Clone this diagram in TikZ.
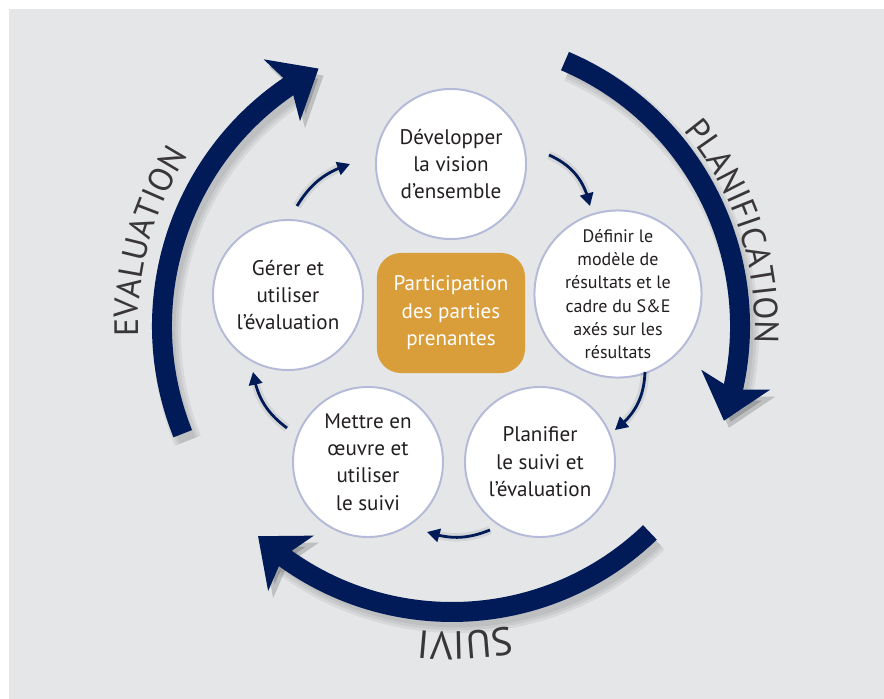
\documentclass[tikz,border=0pt]{standalone}
\usepackage{fontspec}
\setmainfont{PT Sans}
\usetikzlibrary{arrows.meta,bending,decorations.text}
\definecolor{navy}{HTML}{001B58}
\definecolor{gold}{HTML}{D99D3A}
\definecolor{rim}{HTML}{B5BAD8}
\definecolor{panel}{HTML}{E5E6E8}
\definecolor{ink}{HTML}{231F20}
\definecolor{arcink}{HTML}{383638}
\newcommand{\arcfont}{\fontsize{24}{24}\selectfont}
\newcommand{\suivifont}{\fontsize{28}{28}\selectfont}
\begin{document}
\begin{tikzpicture}[x=0.025cm,y=0.025cm,
  stage/.style={circle,draw=rim,line width=1.4pt,fill=white,minimum size=3.75cm,inner sep=0pt,align=center,text=ink,font=\fontsize{15}{19.5}\selectfont},
  smallstage/.style={stage,font=\fontsize{12.8}{16.6}\selectfont},
  hubbox/.style={rectangle,rounded corners=0.6cm,fill=gold,text=white,minimum width=3.7cm,minimum height=3cm,align=center,font=\fontsize{15}{19.5}\selectfont},
  bigarrow/.style={draw=navy,line width=14.2pt,-{Stealth[length=30pt,width=50pt,inset=7pt]}},
  bigshade/.style={draw=black,opacity=0.06,line width=#1,-{Stealth[length=30pt,width=50pt,inset=7pt]}},
  smallarrow/.style={draw=navy,line width=2pt,-{Triangle[length=9pt,width=9.5pt]}},
  smallshade/.style={draw=black,opacity=0.07,line width=#1,-{Triangle[length=9pt,width=9.5pt]}},
  arclabel/.style={decorate,decoration={text along path,text align=center,text color=arcink,text={#1}}}]
\useasboundingbox (-452,-373) rectangle (432,326);
\fill[panel] (-443,-373) rectangle (432,317);
\coordinate (hub) at (0,0);
%
% shadows of the big arcs
\draw[bigshade=20pt,shift={(5,-7)}] (201.8:290) arc[start angle=201.8,end angle=117.4,radius=290];
\draw[bigshade=16pt,shift={(5,-7)}] (201.8:290) arc[start angle=201.8,end angle=117.4,radius=290];
\draw[bigshade=12pt,shift={(5,-7)}] (201.8:290) arc[start angle=201.8,end angle=117.4,radius=290];
\draw[bigshade=20pt,shift={(5,-7)}] (66.9:288) arc[start angle=66.9,end angle=-19.2,radius=288];
\draw[bigshade=16pt,shift={(5,-7)}] (66.9:288) arc[start angle=66.9,end angle=-19.2,radius=288];
\draw[bigshade=12pt,shift={(5,-7)}] (66.9:288) arc[start angle=66.9,end angle=-19.2,radius=288];
\draw[bigshade=20pt,shift={(5,-7)}] (-46.2:286) arc[start angle=-46.2,end angle=-132.7,radius=286];
\draw[bigshade=16pt,shift={(5,-7)}] (-46.2:286) arc[start angle=-46.2,end angle=-132.7,radius=286];
\draw[bigshade=12pt,shift={(5,-7)}] (-46.2:286) arc[start angle=-46.2,end angle=-132.7,radius=286];
%
% big arcs
\draw[bigarrow] (201.8:290) arc[start angle=201.8,end angle=117.4,radius=290];
\draw[bigarrow] (66.9:288) arc[start angle=66.9,end angle=-19.2,radius=288];
\draw[bigarrow] (-46.2:286) arc[start angle=-46.2,end angle=-132.7,radius=286];
%
\path[arclabel={|\arcfont|EVALUATION}] (192.5:314) arc[start angle=192.5,end angle=136.5,radius=314];
\path[arclabel={|\arcfont|PLANIFICATION}] (54:303) arc[start angle=54,end angle=-17,radius=303];
\path[arclabel={|\suivifont|SUIVI}] (-66.5:306) arc[start angle=-66.5,end angle=-108.5,radius=306];
%
\node[stage] (dev) at (-1,162) {Développer\\la vision\\d’ensemble};
\node[smallstage] (def) at (166,32) {Définir le\\modèle de\\résultats et le\\cadre du S\&E\\axés sur les\\résultats};
\node[stage] (plan) at (88,-136) {Planifier\\le suivi et\\l’évaluation};
\node[stage] (mise) at (-84,-136) {Mettre en\\œuvre et\\utiliser\\le suivi};
\node[stage] (gere) at (-164,31) {Gérer et\\utiliser\\l’évaluation};
\node[hubbox] (part) at (-1,13) {Participation\\des parties\\prenantes};
%
\coordinate (o1) at (-155,120); \coordinate (i1) at (-102,162);
\coordinate (o2) at (97,171);   \coordinate (i2) at (138,120);
\coordinate (o3) at (193,-46);  \coordinate (i3) at (163,-104);
\coordinate (o4) at (38,-204);  \coordinate (i4) at (-25,-206);
\coordinate (o5) at (-165,-102); \coordinate (i5) at (-199,-46);
%
\draw[smallshade=6pt,shift={(4,-6)}] (o1) to[bend left=20] (i1);
\draw[smallshade=6pt,shift={(4,-6)}] (o2) to[bend left=27] (i2);
\draw[smallshade=6pt,shift={(4,-6)}] (o3) to[bend left=25] (i3);
\draw[smallshade=6pt,shift={(4,-6)}] (o4) to[bend left=20] (i4);
\draw[smallshade=6pt,shift={(4,-6)}] (o5) to[bend left=22] (i5);
%
\draw[smallarrow] (o1) to[bend left=20] (i1);
\draw[smallarrow] (o2) to[bend left=27] (i2);
\draw[smallarrow] (o3) to[bend left=25] (i3);
\draw[smallarrow] (o4) to[bend left=20] (i4);
\draw[smallarrow] (o5) to[bend left=22] (i5);
\end{tikzpicture}
\end{document}
